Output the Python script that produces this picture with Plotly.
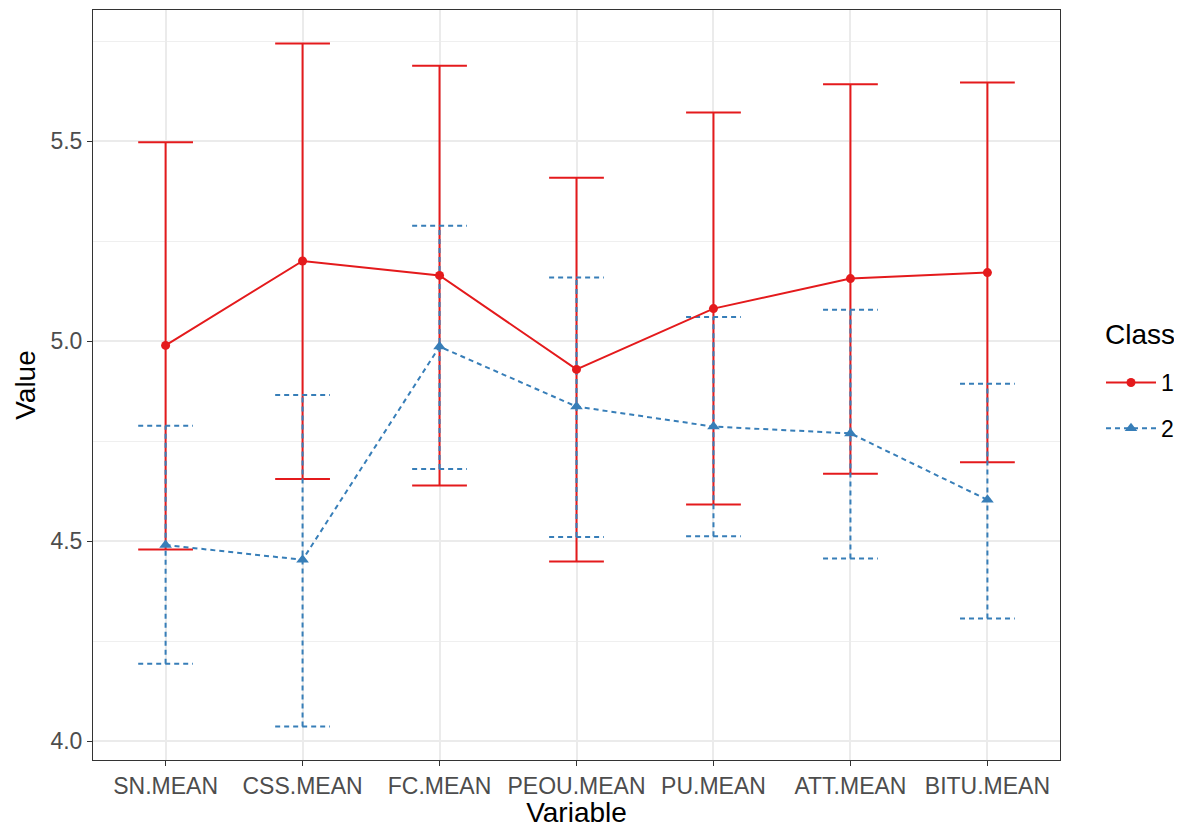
import plotly.graph_objects as go

variables = ["SN.MEAN", "CSS.MEAN", "FC.MEAN", "PEOU.MEAN", "PU.MEAN", "ATT.MEAN", "BITU.MEAN"]

class1_mean = [4.989, 5.200, 5.164, 4.929, 5.081, 5.156, 5.171]
class1_upper = [5.497, 5.744, 5.688, 5.408, 5.571, 5.642, 5.646]
class1_lower = [4.479, 4.655, 4.639, 4.449, 4.591, 4.668, 4.697]

class2_mean = [4.490, 4.453, 4.986, 4.836, 4.786, 4.769, 4.603]
class2_upper = [4.788, 4.865, 5.288, 5.159, 5.060, 5.078, 4.893]
class2_lower = [4.193, 4.036, 4.680, 4.510, 4.512, 4.456, 4.306]

RED = "#E41A1C"
BLUE = "#377EB8"
CAP = 0.2  # half-width of error bar caps, in category units

x_idx = list(range(len(variables)))


def errorbar_segments(upper, lower):
    xs, ys = [], []
    for i, (u, l) in enumerate(zip(upper, lower)):
        xs += [i, i, None]
        ys += [l, u, None]
        xs += [i - CAP, i + CAP, None]
        ys += [u, u, None]
        xs += [i - CAP, i + CAP, None]
        ys += [l, l, None]
    return xs, ys


fig = go.Figure()

ex1, ey1 = errorbar_segments(class1_upper, class1_lower)
ex2, ey2 = errorbar_segments(class2_upper, class2_lower)

fig.add_trace(go.Scatter(x=ex1, y=ey1, mode="lines", line=dict(color=RED, width=2),
                         showlegend=False, hoverinfo="skip"))
fig.add_trace(go.Scatter(x=ex2, y=ey2, mode="lines", line=dict(color=BLUE, width=2, dash="5px,4px"),
                         showlegend=False, hoverinfo="skip"))

fig.add_trace(go.Scatter(x=x_idx, y=class1_mean, mode="lines+markers", name="1",
                         legendgroup="1",
                         line=dict(color=RED, width=2),
                         marker=dict(symbol="circle", size=9, color=RED)))
fig.add_trace(go.Scatter(x=x_idx, y=class2_mean, mode="lines+markers", name="2",
                         legendgroup="2",
                         line=dict(color=BLUE, width=2, dash="5px,4px"),
                         marker=dict(symbol="triangle-up", size=11, color=BLUE)))

fig.update_layout(
    width=1174, height=820,
    margin=dict(l=85, r=122, t=2, b=68),
    paper_bgcolor="white",
    plot_bgcolor="white",
    font=dict(family="Liberation Sans, Arial, sans-serif", size=23, color="#4D4D4D"),
    legend=dict(
        font=dict(size=23, color="black"),
        x=1.0424, xanchor="left", y=0.532, yanchor="top",
        itemwidth=50,
        tracegroupgap=13,
        bgcolor="rgba(0,0,0,0)",
    ),
    annotations=[dict(
        text="Class", xref="paper", yref="paper",
        x=1.0445, xanchor="left", y=0.5667, yanchor="middle",
        showarrow=False, font=dict(size=28, color="black"),
    )],
)

fig.update_xaxes(
    tickmode="array", tickvals=x_idx, ticktext=variables,
    range=[-0.53, 6.53],
    showgrid=True, gridcolor="#EBEBEB", gridwidth=1.5,
    zeroline=False,
    showline=True, linecolor="#333333", linewidth=1, mirror=True,
    ticks="outside", ticklen=5, tickcolor="#333333", tickwidth=1,
    tickfont=dict(size=23, color="#4D4D4D"),
    title=dict(text="Variable", font=dict(size=28, color="black"), standoff=4),
)
fig.update_yaxes(
    tickmode="array", tickvals=[4.0, 4.5, 5.0, 5.5], ticktext=["4.0", "4.5", "5.0", "5.5"],
    range=[3.9525, 5.8275],
    showgrid=True, gridcolor="#EBEBEB", gridwidth=1.5,
    minor=dict(tickvals=[4.25, 4.75, 5.25, 5.75], showgrid=True, gridcolor="#EFEFEF", gridwidth=0.9),
    zeroline=False,
    showline=True, linecolor="#333333", linewidth=1, mirror=True,
    ticks="outside", ticklen=5, tickcolor="#333333", tickwidth=1,
    tickfont=dict(size=23, color="#4D4D4D"),
    title=dict(text="Value", font=dict(size=28, color="black"), standoff=6),
)

fig.write_html("out.html")
